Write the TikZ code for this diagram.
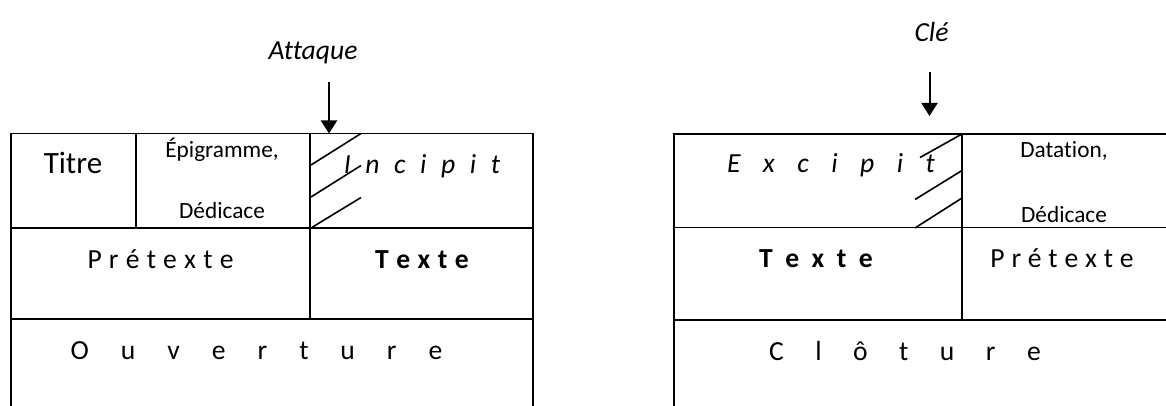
\documentclass[tikz,border=0pt]{standalone}
\usepackage{fontspec}
\setmainfont{Carlito}[Ligatures=NoCommon]
\usetikzlibrary{arrows.meta}

% letter-spaced word: \lsp{gap}{letters}
\makeatletter
\newcommand\lsp[2]{{\def\lsp@sep{}\@tfor\lsp@c:=#2\do{\lsp@sep\lsp@c\def\lsp@sep{\hspace*{#1}}}}}
\makeatother

\newcommand\fsmall{\fontsize{23.3pt}{28pt}\selectfont}
\newcommand\fmid{\fontsize{27.6pt}{33pt}\selectfont}
\newcommand\fbig{\fontsize{31pt}{37pt}\selectfont}

\tikzset{
  rule/.style={line width=1.8pt, line cap=rect},
  hatch/.style={line width=1.6pt},
  label/.style={inner sep=0pt, anchor=base},
  pointer/.style={line width=2pt, -{Triangle[width=16pt,length=13pt]}},
}

\begin{document}
\begin{tikzpicture}[x=1pt,y=-1pt]
\useasboundingbox (0,0) rectangle (1166,406);

% ---------- opening block ----------
\draw[rule] (11,406) -- (11,133.5) -- (533,133.5) -- (533,406);
\draw[rule] (11,228) -- (533,228);
\draw[rule] (11,319) -- (533,319);
\draw[rule] (136,133.5) -- (136,228);
\draw[rule] (310,133.5) -- (310,319);
\draw[hatch] (311,165) -- (361,133.5);
\draw[hatch] (311,197) -- (361,165.5);
\draw[hatch] (311,228) -- (361,197.5);

\node[label] (titre) at (73,174) {\fbig Titre};
\node[label] (epig) at (222,157.5) {\fsmall Épigramme,};
\node[label] (dedic) at (222,218.5) {\fsmall Dédicace};
\node[label] (incipit) at (422,173.5) {\fmid\itshape\lsp{14.6pt}{Incipit}};
\node[label] (pretexteA) at (160.5,268.5) {\fmid\lsp{7.2pt}{Prétexte}};
\node[label] (texteA) at (422,268.5) {\fmid\bfseries\lsp{7.5pt}{Texte}};
\node[label] (ouverture) at (256.5,359) {\fmid\lsp{32pt}{Ouverture}};

\node[label] (attaque) at (313,60) {\fmid\itshape Attaque};
\coordinate (attaqueFrom) at (329,82);
\coordinate (attaqueTo) at (329,133.5);
\draw[pointer] (attaqueFrom) -- (attaqueTo);

% ---------- closing block ----------
\draw[rule] (674,406) -- (674,134) -- (1170,134);
\draw[rule] (674,227.5) -- (1170,227.5);
\draw[rule] (674,320) -- (1170,320);
\draw[rule] (962,134) -- (962,320);
\draw[hatch] (920,157.5) -- (962,134);
\draw[hatch] (915,199.5) -- (962,170.5);
\draw[hatch] (915,228) -- (962,198);

\node[label] (excipit) at (831,173) {\fmid\itshape\lsp{22.5pt}{Excipit}};
\node[label] (datation) at (1064,157.5) {\fsmall Datation,};
\node[label] (dedicB) at (1064,222) {\fsmall Dédicace};
\node[label] (texteB) at (816,267) {\fmid\bfseries\lsp{12.5pt}{Texte}};
\node[label] (pretexteB) at (1062,267) {\fmid\lsp{6.8pt}{Prétexte}};
\node[label] (cloture) at (905,360) {\fmid\lsp{31.5pt}{Clôture}};

\node[label] (cle) at (931.5,41.5) {\fmid\itshape Clé};
\coordinate (cleFrom) at (929.5,72);
\coordinate (cleTo) at (929.5,116);
\draw[pointer] (cleFrom) -- (cleTo);
\end{tikzpicture}
\end{document}
